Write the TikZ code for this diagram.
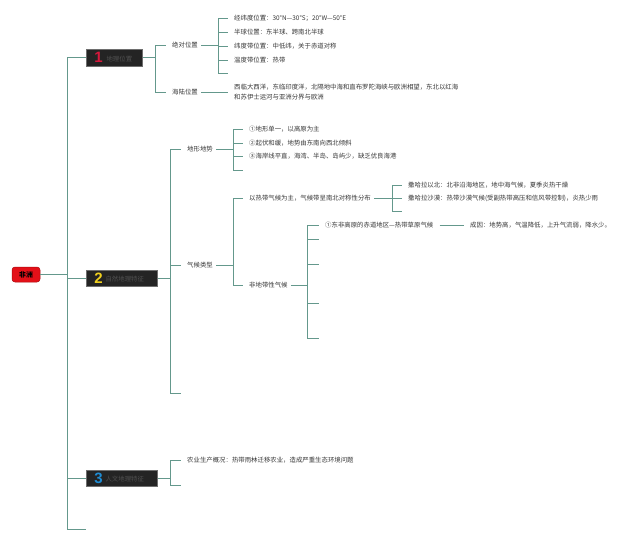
\documentclass[tikz,border=0pt]{standalone}
\usepackage{fontspec}
\setmainfont{Noto Sans CJK SC}
\newfontfamily\numfont{Liberation Sans}
\definecolor{lc}{RGB}{100,152,140}
\definecolor{tc}{RGB}{55,55,55}
\definecolor{bx}{RGB}{36,36,36}
\definecolor{bxd}{RGB}{110,110,110}
\definecolor{bt}{RGB}{80,80,80}
\definecolor{nA}{RGB}{214,24,60}
\definecolor{nB}{RGB}{240,208,30}
\definecolor{nC}{RGB}{30,140,212}
\definecolor{rootred}{RGB}{228,16,24}
\definecolor{rootdark}{RGB}{170,10,15}
\begin{document}
\begin{tikzpicture}[x=1pt,y=-1pt,
  ln/.style={draw=lc,line width=0.85pt},
  stub/.style={ln,shorten >=3.5pt},
  txt/.style={anchor=west,inner xsep=3pt,inner ysep=1pt,text=tc,font=\fontsize{6.4}{8}\selectfont},
  kbox/.style={anchor=west,fill=bx,draw=bxd,line width=0.5pt,minimum height=16.5pt,inner xsep=8pt,inner ysep=0pt,align=left,font=\fontsize{6.4}{8}\selectfont},
  rootbox/.style={fill=rootred,draw=rootdark,line width=0.5pt,rounded corners=3pt,minimum width=28pt,minimum height=15pt,inner sep=0pt,font=\fontsize{6.8}{8}\selectfont\bfseries,text=black}
]
\useasboundingbox (0,0) rectangle (640,542);
\fill[white] (0,0) rectangle (640,542);

% root
\node[rootbox] (root) at (26,274.5) {非洲};

% main boxes
\node[kbox,text width=40pt] (k1) at (86,57.5) {\raisebox{-1.5pt}{\numfont\bfseries\fontsize{15}{15}\selectfont\color{nA}1}\hspace{4pt}{\color{bt}地理位置}};
\node[kbox,text width=55pt] (k2) at (86,278) {\raisebox{-1.5pt}{\numfont\bfseries\fontsize{15}{15}\selectfont\color{nB}2}\hspace{3pt}{\color{bt}自然地理特征}};
\node[kbox,text width=55pt] (k3) at (86,478) {\raisebox{-1.5pt}{\numfont\bfseries\fontsize{15}{15}\selectfont\color{nC}3}\hspace{3pt}{\color{bt}人文地理特征}};
\coordinate (kend) at (86,529);
\coordinate (tr) at (67,0);

% trunk
\draw[ln] (root.east) -- (root.east -| tr);
\draw[ln] (k1.west -| tr) -- (kend -| tr) -- (kend);
\draw[ln] (k1.west -| tr) -- (k1.west);
\draw[ln] (k2.west -| tr) -- (k2.west);
\draw[ln] (k3.west -| tr) -- (k3.west);

% ---------- box 1
\coordinate (b1) at (155,0);
\node[txt] (jd) at (169,45) {绝对位置};
\node[txt] (hl) at (169,92) {海陆位置};
\draw[ln] (k1.east) -- (k1.east -| b1);
\draw[ln] (jd.west -| b1) -- (hl.west -| b1);
\draw[stub] (jd.west -| b1) -- (jd.west);
\draw[stub] (hl.west -| b1) -- (hl.west);

\coordinate (b11) at (218,0);
\node[txt] (j1) at (231,18) {经纬度位置：30°N—30°S；20°W—50°E};
\node[txt] (j2) at (231,32.5) {半球位置：东半球、跨南北半球};
\node[txt] (j3) at (231,46) {纬度带位置：中低纬，关于赤道对称};
\node[txt] (j4) at (231,60) {温度带位置：热带};
\coordinate (je) at (231,73);
\draw[ln] (jd.east) -- (jd.east -| b11);
\draw[ln] (j1.west -| b11) -- (je -| b11);
\foreach \n in {j1,j2,j3,j4} \draw[stub] (\n.west -| b11) -- (\n.west);
\draw[stub] (je -| b11) -- (je);

\node[txt,align=left,font=\fontsize{6.4}{10}\selectfont] (hlt) at (231,92) {西临大西洋，东临印度洋，北隔地中海和直布罗陀海峡与欧洲相望，东北以红海\\和苏伊士运河与亚洲分界与欧洲};
\draw[stub] (hl.east) -- (hl.east -| hlt.west);

% ---------- box 2
\coordinate (b2) at (170,0);
\node[txt] (dx) at (184,149) {地形地势};
\node[txt] (qh) at (184,265) {气候类型};
\coordinate (e2) at (184,393);
\draw[ln] (k2.east) -- (k2.east -| b2);
\draw[ln] (dx.west -| b2) -- (e2 -| b2);
\draw[stub] (dx.west -| b2) -- (dx.west);
\draw[stub] (qh.west -| b2) -- (qh.west);
\draw[stub] (e2 -| b2) -- (e2);

\coordinate (b21) at (233,0);
\node[txt] (d1) at (246,129) {①地形单一，以高原为主};
\node[txt] (d2) at (246,143) {②起伏和缓，地势由东南向西北倾斜};
\node[txt] (d3) at (246,156.5) {③海岸线平直，海湾、半岛、岛屿少，缺乏优良海港};
\coordinate (de) at (246,170.5);
\draw[ln] (dx.east) -- (dx.east -| b21);
\draw[ln] (d1.west -| b21) -- (de -| b21);
\foreach \n in {d1,d2,d3} \draw[stub] (\n.west -| b21) -- (\n.west);
\draw[stub] (de -| b21) -- (de);

\node[txt] (q1) at (246,198) {以热带气候为主，气候带呈南北对称性分布};
\node[txt] (fd) at (246,285) {非地带性气候};
\draw[ln] (qh.east) -- (qh.east -| b21);
\draw[ln] (q1.west -| b21) -- (fd.west -| b21);
\draw[stub] (q1.west -| b21) -- (q1.west);
\draw[stub] (fd.west -| b21) -- (fd.west);

\coordinate (b22) at (392,0);
\node[txt] (s1) at (405,185) {撒哈拉以北：北非沿海地区，地中海气候，夏季炎热干燥};
\node[txt] (s2) at (405,198) {撒哈拉沙漠：热带沙漠气候(受副热带高压和信风带控制)，炎热少雨};
\coordinate (se) at (405,211);
\draw[ln] (q1.east) -- (q1.east -| b22);
\draw[ln] (s1.west -| b22) -- (se -| b22);
\draw[stub] (s1.west -| b22) -- (s1.west);
\draw[stub] (s2.west -| b22) -- (s2.west);
\draw[stub] (se -| b22) -- (se);

\coordinate (b23) at (307,0);
\node[txt] (f1) at (322,225) {①东非高原的赤道地区—热带草原气候};
\coordinate (fa) at (322,239);
\coordinate (fb) at (322,264);
\coordinate (fc) at (322,303);
\coordinate (ff) at (322,338);
\draw[ln] (fd.east) -- (fd.east -| b23);
\draw[ln] (f1.west -| b23) -- (ff -| b23);
\draw[stub] (f1.west -| b23) -- (f1.west);
\foreach \n in {fa,fb,fc,ff} \draw[stub] (\n -| b23) -- (\n);

\node[txt] (cy) at (467,225) {成因：地势高，气温降低，上升气流弱，降水少。};
\draw[stub,shorten <=3pt] (f1.east) -- (cy.west);

% ---------- box 3
\node[txt] (ny) at (184,460) {农业生产概况：热带雨林迁移农业，造成严重生态环境问题};
\coordinate (e5) at (184,485);
\draw[ln] (k3.east) -- (k3.east -| b2);
\draw[ln] (ny.west -| b2) -- (e5 -| b2);
\draw[stub] (ny.west -| b2) -- (ny.west);
\draw[stub] (e5 -| b2) -- (e5);
\end{tikzpicture}
\end{document}
